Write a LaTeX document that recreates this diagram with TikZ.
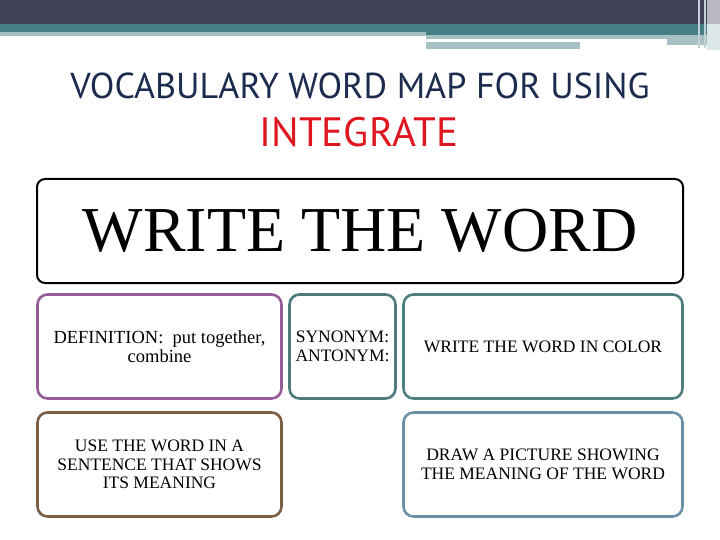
\documentclass[tikz,border=0pt]{standalone}
\usepackage{fontspec}
\setmainfont{Liberation Serif}
\newfontfamily\headfont{PT Sans}
\usepackage{graphicx}
\usetikzlibrary{positioning}

\definecolor{slatebar}{HTML}{434357}
\definecolor{tealbar}{HTML}{467F83}
\definecolor{palebar}{HTML}{A6C0C3}
\definecolor{greyedge}{HTML}{B9B9C4}
\definecolor{mistedge}{HTML}{DCE7E8}
\definecolor{headnavy}{HTML}{1C2B4E}
\definecolor{headred}{HTML}{DE1620}
\definecolor{defpurple}{HTML}{965C96}
\definecolor{syngreen}{HTML}{4F7B7F}
\definecolor{colorteal}{HTML}{4E7E80}
\definecolor{usebrown}{HTML}{7C5E45}
\definecolor{drawblue}{HTML}{6C90A7}

\begin{document}
\begin{tikzpicture}[x=1pt,y=-1pt,
  headline/.style={font=\headfont\fontsize{36}{38}\selectfont, inner sep=0pt},
  wordbox/.style={draw=black, line width=2pt, rounded corners=8pt,
    minimum width=646pt, minimum height=104pt,
    font=\fontsize{64}{66}\selectfont},
  mapbox/.style={line width=2.6pt, rounded corners=10pt, align=center,
    minimum height=104pt, inner sep=2pt,
    font=\fontsize{17.5}{18.6}\selectfont}]
\useasboundingbox (0,0) rectangle (720,540);

% top band
\fill[slatebar] (0,0) rectangle (720,24);
\fill[tealbar] (0,24) rectangle (720,32);
\fill[palebar] (0,32) rectangle (426,36);
\fill[tealbar] (426,32) rectangle (707,35);
\fill[palebar] (426,35) rectangle (707,39);
\fill[palebar] (667,39) rectangle (707,45);
\fill[palebar] (426,42) rectangle (580,49);
\fill[greyedge] (707,0) rectangle (720,24);
\fill[mistedge] (707,24) rectangle (720,50);
\fill[palebar!70!white] (698,0) rectangle (700,48);
\fill[palebar!70!white] (704,0) rectangle (706,48);

% title
\node[headline, text=headnavy] (title) at (360,86)
  {VOCABULARY WORD MAP FOR USING};
\node[headline, text=headred, font=\headfont\fontsize{41}{43}\selectfont] (word) at (359,132)
  {INTEGRATE};

% boxes
\node[wordbox] (write) at (360,231) {WRITE THE WORD};

\node[mapbox, draw=defpurple, minimum width=244pt,
  font=\fontsize{18.5}{18.5}\selectfont] (def) at (159.5,346.5)
  {DEFINITION:\ \ put together,\\ combine};
\node[mapbox, draw=syngreen, minimum width=106pt] (syn) at (342.5,346.5)
  {SYNONYM:\\ ANTONYM:};
\node[mapbox, draw=colorteal, minimum width=279pt] (color) at (543,346.5)
  {WRITE THE WORD IN COLOR};
\node[mapbox, draw=usebrown, minimum width=244pt] (use) at (159.5,464.5)
  {USE THE WORD IN A\\ SENTENCE THAT SHOWS\\ ITS MEANING};
\node[mapbox, draw=drawblue, minimum width=279pt] (pic) at (543,464.5)
  {DRAW A PICTURE SHOWING\\ THE MEANING OF THE WORD};
\end{tikzpicture}
\end{document}
